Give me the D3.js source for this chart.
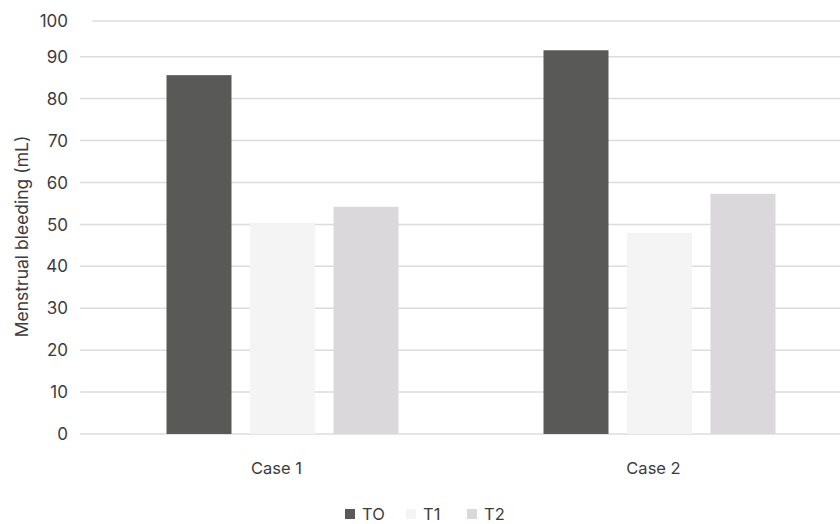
<!DOCTYPE html>
<html>
<head>
<meta charset="utf-8">
<script src="https://cdn.jsdelivr.net/npm/d3@7"></script>
<style>
  html, body { margin: 0; padding: 0; background: #ffffff; }
  svg { display: block; }
  text { font-family: Inter, "DejaVu Sans", sans-serif; fill: #3c3c3c; }
</style>
</head>
<body>
<svg id="chart" width="840" height="524"></svg>
<script>
// Menstrual bleeding per case at three time points
const categories = ["Case 1", "Case 2"];
const series = ["TO", "T1", "T2"];
const valuesT0 = [85.6, 91.8];
const valuesT1 = [50.4, 48.0];
const valuesT2 = [54.2, 57.3];
const yTicks = [0, 10, 20, 30, 40, 50, 60, 70, 80, 90, 100];
const colors = ["#595957", "#f4f4f4", "#dad8db"];

const seriesValues = [valuesT0, valuesT1, valuesT2];

const svg = d3.select("#chart");

// Vertical value scale (top band above 90 is slightly compressed)
const y = d3.scaleLinear().domain([0, 90, 100]).range([434, 56.7, 21]);

// Category scale and per-series scale inside each category
const x = d3.scaleBand().domain(categories).range([88, 842]);
const xInner = d3.scaleBand().domain(series).range([0, 232]).paddingInner(0.2216);
const groupOffset = x.bandwidth() / 2 + 6 - 116;

// Horizontal gridlines
svg.append("g")
  .selectAll("line")
  .data(yTicks)
  .join("line")
  .attr("x1", d => d === 100 ? 92 : 80)
  .attr("x2", 840)
  .attr("y1", d => y(d))
  .attr("y2", d => y(d))
  .attr("stroke", "#dcdcdc")
  .attr("stroke-width", 1.5);

// Y tick labels
svg.append("g")
  .selectAll("text")
  .data(yTicks)
  .join("text")
  .attr("x", 68)
  .attr("y", d => y(d))
  .attr("dy", "0.36em")
  .attr("text-anchor", "end")
  .attr("font-size", 17)
  .text(d => d);

// Bars
const rows = [];
categories.forEach((c, i) => {
  series.forEach((s, j) => rows.push({ c, s, j, v: seriesValues[j][i] }));
});

svg.append("g")
  .selectAll("rect")
  .data(rows)
  .join("rect")
  .attr("x", d => x(d.c) + groupOffset + xInner(d.s))
  .attr("width", xInner.bandwidth())
  .attr("y", d => y(d.v))
  .attr("height", d => y(0) - y(d.v))
  .attr("fill", d => colors[d.j]);

// Category labels
svg.append("g")
  .selectAll("text")
  .data(categories)
  .join("text")
  .attr("x", d => x(d) + x.bandwidth() / 2)
  .attr("y", 474)
  .attr("text-anchor", "middle")
  .attr("font-size", 16.5)
  .text(d => d);

// Y axis title
svg.append("text")
  .attr("transform", "translate(28,236.5) rotate(-90)")
  .attr("text-anchor", "middle")
  .attr("font-size", 17.5)
  .text("Menstrual bleeding (mL)");

// Legend
const legendX = d3.scalePoint().domain(series).range([345, 467]);
const legend = svg.append("g")
  .selectAll("g")
  .data(series)
  .join("g")
  .attr("transform", d => `translate(${legendX(d)},509)`);

legend.append("rect")
  .attr("width", 10)
  .attr("height", 10)
  .attr("fill", (d, i) => colors[i]);

legend.append("text")
  .attr("x", 17)
  .attr("y", 10.5)
  .attr("font-size", 16.5)
  .text(d => d);
</script>
</body>
</html>
